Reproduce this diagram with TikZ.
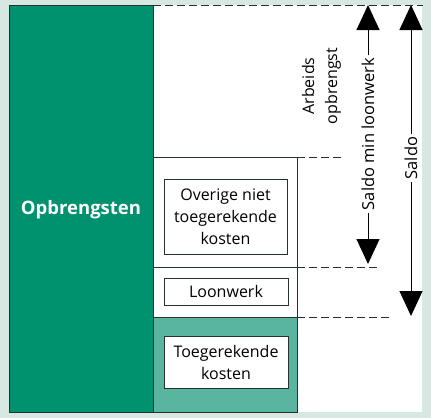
\documentclass[tikz,border=0pt]{standalone}
\usepackage{fontspec}
\setmainfont{Open Sans}
\usetikzlibrary{arrows.meta}
\definecolor{bgc}{RGB}{214,232,225}
\definecolor{dgreen}{RGB}{0,145,110}
\definecolor{teal2}{RGB}{90,181,160}
\definecolor{edge}{RGB}{40,50,45}
\tikzset{
  frameline/.style={draw=edge, line width=0.9pt},
  boxtext/.style={draw=edge, line width=0.7pt, fill=white, align=center, font=\fontsize{16}{22}\selectfont, inner sep=0pt},
  dashline/.style={draw=edge, dashed, dash pattern=on 8pt off 4pt, line width=0.8pt},
  bigarrow/.style={draw=black, line width=1pt, -{Triangle[length=25pt,width=23pt]}},
  vlabel/.style={rotate=90, fill=white, inner sep=3pt, font=\fontsize{16.5}{18}\selectfont},
}
\begin{document}
\begin{tikzpicture}[x=1pt,y=-1pt]
\fill[bgc] (0,0) rectangle (431,418);
\useasboundingbox (0,0) rectangle (431,418);
% white area
\fill[white] (153,5) rectangle (422,412);
% green column
\fill[dgreen] (9,5) rectangle (153,412);
% teal section
\fill[teal2] (153,317) rectangle (297,412);
% column outlines
\draw[frameline] (153,5) -- (9,5) -- (9,412) -- (297,412) -- (297,157) -- (153,157);
\draw[frameline] (153,5) -- (153,412);
\draw[frameline] (153,267) -- (297,267);
\draw[frameline] (153,317) -- (297,317);
% dashed lines
\coordinate (d0a) at (153,5); \coordinate (d0b) at (423,5);
\coordinate (d1a) at (297,157); \coordinate (d1b) at (342,157);
\coordinate (d2a) at (297,267); \coordinate (d2b) at (377,267);
\coordinate (d3a) at (297,317); \coordinate (d3b) at (392,317);
\draw[dashline] (d0a) -- (d0b);
\draw[dashline] (d1a) -- (d1b);
\draw[dashline] (d2a) -- (d2b);
\draw[dashline] (d3a) -- (d3b);
% labels
\node[font=\bfseries\fontsize{18.5}{20}\selectfont, text=white] (opb) at (81,210) {Opbrengsten};
\node[boxtext, minimum width=123pt, minimum height=75pt] (ov) at (225.5,216.5) {Overige niet\\toegerekende\\kosten};
\node[boxtext, minimum width=124pt, minimum height=27pt] (lw) at (226,291.5) {Loonwerk};
\node[boxtext, minimum width=124pt, minimum height=52pt] (tk) at (226,362) {Toegerekende\\kosten};
\node[rotate=90, align=center, font=\fontsize{16}{23}\selectfont] (arb) at (321.5,86) {Arbeids\\opbrengst};
% arrows
\coordinate (a1m) at (368,134);
\coordinate (a1t) at (368,5);
\coordinate (a1b) at (368,264);
\draw[bigarrow] (a1m) -- (a1t);
\draw[bigarrow] (a1m) -- (a1b);
\node[vlabel] (sml) at (a1m) {Saldo min loonwerk};
\coordinate (a2m) at (411,158);
\coordinate (a2t) at (411,5);
\coordinate (a2b) at (411,316);
\draw[bigarrow] (a2m) -- (a2t);
\draw[bigarrow] (a2m) -- (a2b);
\node[vlabel] (sal) at (a2m) {Saldo};
\end{tikzpicture}
\end{document}
